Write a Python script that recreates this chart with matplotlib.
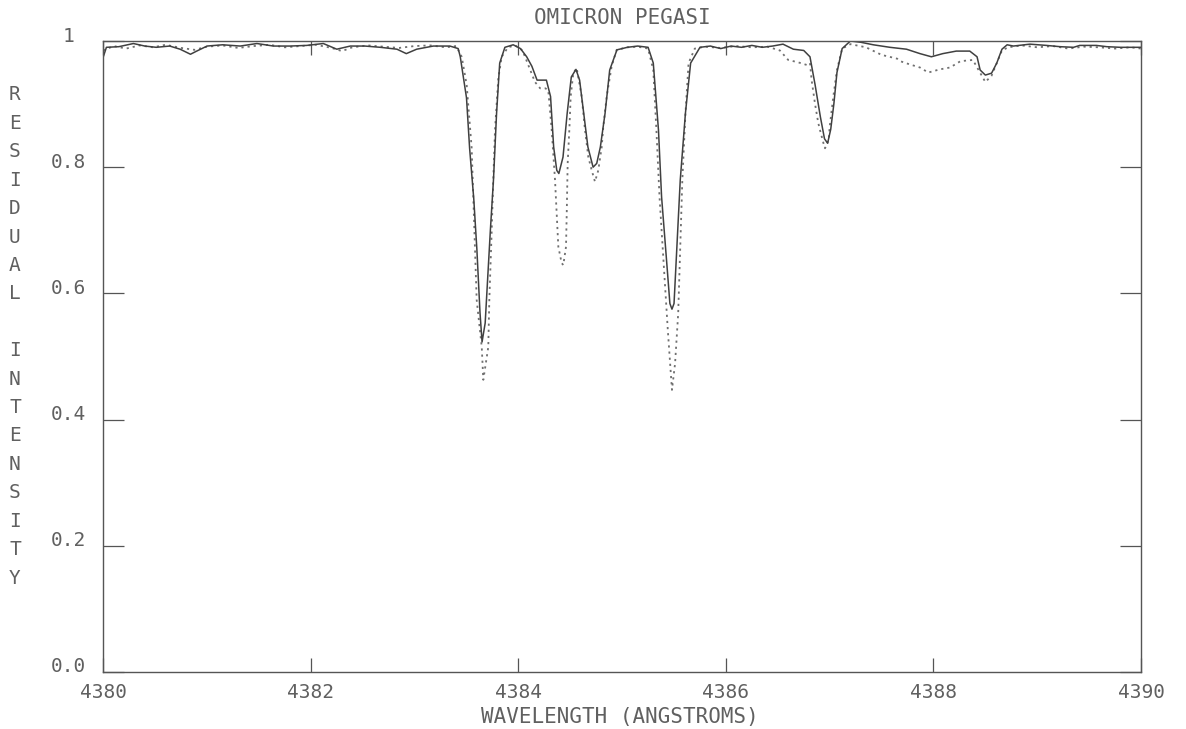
import matplotlib
matplotlib.use("Agg")
import matplotlib.pyplot as plt
import matplotlib.transforms as mtransforms

# ---- data ----
wl_obs = [4380.00, 4380.03, 4380.15, 4380.29, 4380.40, 4380.51, 4380.64, 4380.74, 4380.84, 4380.90,
          4381.00, 4381.15, 4381.32, 4381.48, 4381.64, 4381.80, 4381.96, 4382.12, 4382.25, 4382.38,
          4382.52, 4382.67, 4382.83, 4382.92, 4383.02, 4383.18, 4383.34, 4383.42, 4383.44, 4383.50,
          4383.53, 4383.57, 4383.60, 4383.63, 4383.65, 4383.68, 4383.73, 4383.76, 4383.79, 4383.82,
          4383.87, 4383.95, 4384.02, 4384.08, 4384.13, 4384.18, 4384.27, 4384.31, 4384.34, 4384.37,
          4384.39, 4384.43, 4384.47, 4384.51, 4384.555, 4384.59, 4384.63, 4384.67, 4384.72, 4384.755,
          4384.79, 4384.835, 4384.88, 4384.95, 4385.05, 4385.15, 4385.25, 4385.30, 4385.35, 4385.38,
          4385.43, 4385.46, 4385.48, 4385.50, 4385.56, 4385.61, 4385.66, 4385.75, 4385.85, 4385.95,
          4386.05, 4386.15, 4386.25, 4386.35, 4386.45, 4386.55, 4386.65, 4386.75, 4386.81, 4386.86,
          4386.91, 4386.95, 4386.98, 4387.01, 4387.04, 4387.07, 4387.12, 4387.20, 4387.30, 4387.42,
          4387.58, 4387.74, 4387.87, 4387.98, 4388.09, 4388.22, 4388.35, 4388.42, 4388.45, 4388.50,
          4388.56, 4388.61, 4388.66, 4388.71, 4388.77, 4388.93, 4389.09, 4389.22, 4389.35, 4389.41,
          4389.57, 4389.67, 4389.80, 4390.00]
ri_obs = [0.975, 0.990, 0.991, 0.996, 0.992, 0.990, 0.992, 0.987, 0.979, 0.984,
          0.992, 0.994, 0.992, 0.996, 0.992, 0.992, 0.993, 0.996, 0.987, 0.992,
          0.992, 0.990, 0.987, 0.980, 0.987, 0.992, 0.992, 0.988, 0.975, 0.910,
          0.830, 0.750, 0.670, 0.570, 0.523, 0.553, 0.700, 0.780, 0.886, 0.965,
          0.990, 0.994, 0.988, 0.975, 0.960, 0.938, 0.938, 0.912, 0.832, 0.795,
          0.790, 0.816, 0.885, 0.943, 0.955, 0.938, 0.885, 0.832, 0.800, 0.806,
          0.832, 0.885, 0.954, 0.986, 0.990, 0.992, 0.990, 0.965, 0.859, 0.753,
          0.648, 0.584, 0.575, 0.584, 0.780, 0.886, 0.965, 0.990, 0.992, 0.988,
          0.992, 0.990, 0.993, 0.990, 0.992, 0.995, 0.987, 0.985, 0.975, 0.930,
          0.880, 0.845, 0.838, 0.860, 0.900, 0.950, 0.988, 1.000, 0.998, 0.994,
          0.990, 0.987, 0.980, 0.975, 0.980, 0.984, 0.984, 0.975, 0.954, 0.946,
          0.949, 0.965, 0.987, 0.994, 0.992, 0.995, 0.993, 0.991, 0.990, 0.993,
          0.993, 0.991, 0.990, 0.990]

wl_calc = [4380.00, 4380.10, 4380.22, 4380.35, 4380.48, 4380.60, 4380.75, 4380.88, 4381.00, 4381.15,
           4381.30, 4381.45, 4381.60, 4381.75, 4381.90, 4382.05, 4382.20, 4382.30, 4382.40, 4382.55,
           4382.70, 4382.85, 4383.00, 4383.15, 4383.30, 4383.40, 4383.454, 4383.502, 4383.550, 4383.566,
           4383.582, 4383.598, 4383.647, 4383.662, 4383.710, 4383.720, 4383.743, 4383.758, 4383.775, 4383.806,
           4383.839, 4383.90, 4383.97, 4384.04, 4384.10, 4384.16, 4384.21, 4384.26, 4384.288, 4384.321,
           4384.353, 4384.369, 4384.385, 4384.417, 4384.433, 4384.459, 4384.466, 4384.475, 4384.491, 4384.504,
           4384.529, 4384.562, 4384.610, 4384.642, 4384.674, 4384.707, 4384.738, 4384.770, 4384.803, 4384.818,
           4384.851, 4384.899, 4384.947, 4385.05, 4385.15, 4385.25, 4385.30, 4385.33, 4385.36, 4385.40,
           4385.44, 4385.48, 4385.51, 4385.54, 4385.56, 4385.58, 4385.61, 4385.64, 4385.70, 4385.80,
           4385.95, 4386.10, 4386.25, 4386.40, 4386.52, 4386.60, 4386.70, 4386.78, 4386.81, 4386.826,
           4386.858, 4386.89, 4386.905, 4386.94, 4386.955, 4386.99, 4387.00, 4387.035, 4387.07, 4387.12,
           4387.20, 4387.35, 4387.50, 4387.65, 4387.68, 4387.77, 4387.87, 4387.95, 4388.06, 4388.16,
           4388.26, 4388.38, 4388.50, 4388.56, 4388.61, 4388.66, 4388.72, 4388.85, 4389.00, 4389.15,
           4389.30, 4389.45, 4389.60, 4389.75, 4389.90, 4390.00]
ri_calc = [0.985, 0.992, 0.988, 0.993, 0.990, 0.994, 0.989, 0.986, 0.991, 0.993,
           0.989, 0.992, 0.994, 0.990, 0.992, 0.994, 0.989, 0.984, 0.990, 0.993,
           0.991, 0.989, 0.992, 0.993, 0.990, 0.992, 0.975, 0.930, 0.830, 0.750,
           0.670, 0.590, 0.515, 0.463, 0.515, 0.590, 0.700, 0.780, 0.860, 0.940,
           0.975, 0.990, 0.993, 0.985, 0.960, 0.935, 0.925, 0.925, 0.922, 0.859,
           0.780, 0.727, 0.674, 0.648, 0.645, 0.674, 0.727, 0.806, 0.859, 0.912,
           0.949, 0.957, 0.912, 0.859, 0.816, 0.795, 0.777, 0.795, 0.832, 0.864,
           0.912, 0.960, 0.986, 0.990, 0.991, 0.988, 0.954, 0.859, 0.753, 0.648,
           0.542, 0.447, 0.489, 0.568, 0.674, 0.780, 0.885, 0.965, 0.988, 0.991,
           0.989, 0.992, 0.990, 0.991, 0.985, 0.970, 0.966, 0.962, 0.965, 0.938,
           0.901, 0.870, 0.860, 0.838, 0.830, 0.843, 0.864, 0.912, 0.954, 0.988,
           0.995, 0.990, 0.978, 0.972, 0.968, 0.963, 0.958, 0.950, 0.955, 0.958,
           0.968, 0.970, 0.935, 0.945, 0.965, 0.985, 0.990, 0.993, 0.990, 0.992,
           0.988, 0.991, 0.990, 0.988, 0.990, 0.988]

x_ticks = [4380, 4382, 4384, 4386, 4388, 4390]
x_tick_labels = ["4380", "4382", "4384", "4386", "4388", "4390"]
y_ticks = [0.0, 0.2, 0.4, 0.6, 0.8, 1.0]
y_tick_labels = ["0.0", "0.2", "0.4", "0.6", "0.8", "1"]
title = "OMICRON PEGASI"
x_label = "WAVELENGTH (ANGSTROMS)"
y_label = "RESIDUAL INTENSITY"

# ---- drawing ----
W, H, DPI = 1186, 729, 100
fig = plt.figure(figsize=(W / DPI, H / DPI), dpi=DPI, facecolor="white")
ax = fig.add_axes([103.3 / W, (H - 672) / H, (1141 - 103.3) / W, (672 - 41) / H])

ink = "#555555"
txt = "#606060"
font = "DejaVu Sans Mono"

ax.plot(wl_calc, ri_calc, color="#707070", lw=1.3, linestyle=(0, (1.2, 2.2)))
ax.plot(wl_obs, ri_obs, color="#404040", lw=1.1)

ax.set_xlim(4380, 4390)
ax.set_ylim(0, 1)
for s in ax.spines.values():
    s.set_color(ink)
    s.set_linewidth(1.0)

ax.set_xticks(x_ticks)
ax.set_xticklabels(x_tick_labels, family=font, fontsize=14, color=txt)
ax.set_yticks(y_ticks)
ax.set_yticklabels(y_tick_labels, family=font, fontsize=14, color=txt)
ax.tick_params(axis="both", which="both", direction="in", colors=ink, width=0.9,
               top=True, right=True, labelcolor=txt)
ax.tick_params(axis="y", length=15, pad=14)
ax.tick_params(axis="x", length=10, pad=8)

# y tick labels centred and raised slightly, as in the plotter output
off = mtransforms.ScaledTranslation(-15 / DPI, 7 / DPI, fig.dpi_scale_trans)
for lab in ax.get_yticklabels():
    lab.set_horizontalalignment("center")
    lab.set_transform(lab.get_transform() + off)

fig.text(622 / W, 1 - 18 / H, title, ha="center", va="center", family=font,
         fontsize=15, color=txt)
fig.text(620 / W, 1 - 717 / H, x_label, ha="center", va="center", family=font,
         fontsize=15, color=txt)

# vertical stacked y-label
letters = list("RESIDUAL") + [" "] + list("INTENSITY")
y0, y1 = 95, 578
step = (y1 - y0) / (len(letters) - 1)
for i, ch in enumerate(letters):
    if ch.strip():
        fig.text(15 / W, 1 - (y0 + i * step) / H, ch, ha="center", va="center",
                 family=font, fontsize=14, color=txt)

fig.savefig("out.png", dpi=DPI, facecolor="white")
